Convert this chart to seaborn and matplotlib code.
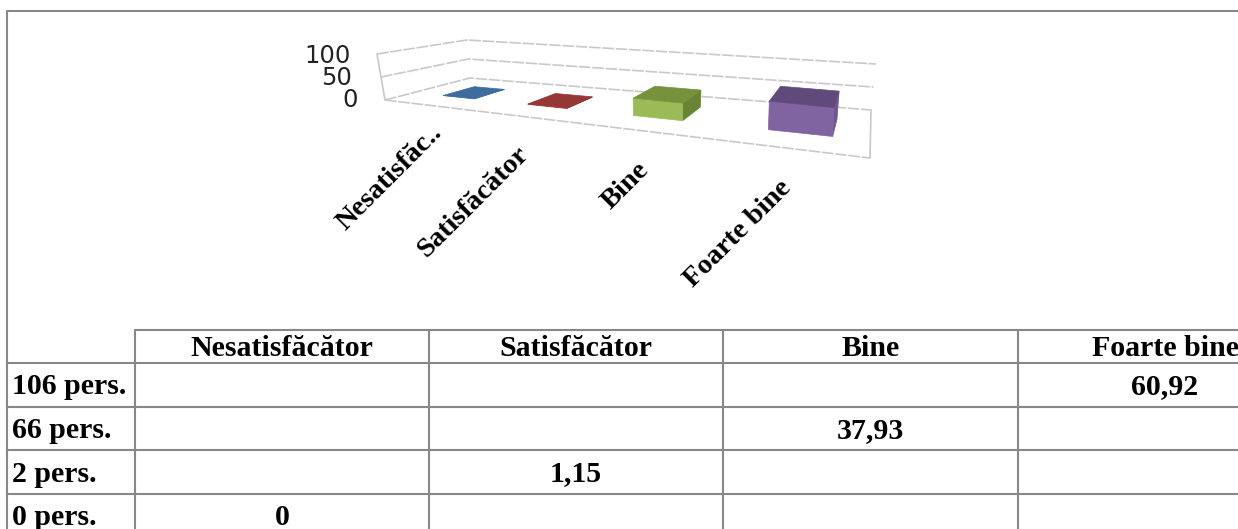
import numpy as np
import pandas as pd
import matplotlib
matplotlib.use("Agg")
import matplotlib.pyplot as plt
from matplotlib.patches import Polygon
import seaborn as sns

# ---- data ----
categories = ["Nesatisfăcător", "Satisfăcător", "Bine", "Foarte bine"]
axis_labels = ["Nesatisfăc..", "Satisfăcător", "Bine", "Foarte bine"]
percent_values = [0, 1.15, 37.93, 60.92]
percent_text = ["0", "1,15", "37,93", "60,92"]
row_labels = ["106 pers.", "66 pers.", "2 pers.", "0 pers."]
row_category = [3, 2, 1, 0]
y_ticks = [0, 50, 100]

W, H = 1238, 529
sns.set_theme(style="white")
plt.rcParams["font.family"] = ["Liberation Serif", "DejaVu Sans"]
fig = plt.figure(figsize=(W / 100, H / 100), dpi=100, facecolor="white")

# hidden seaborn axes: supplies bar geometry from the data
hidden = fig.add_axes([0, 0, 0.01, 0.01])
df = pd.DataFrame({"cat": categories, "val": percent_values})
sns.barplot(data=df, x="cat", y="val", ax=hidden, width=0.395, color="gray", errorbar=None)
bars = [(p.get_x(), p.get_width(), p.get_height()) for p in hidden.patches]
hidden.remove()

ax = fig.add_axes([0, 0, 1, 1])
ax.set_xlim(0, W)
ax.set_ylim(H, 0)
ax.axis("off")

# ---- 3D-looking projection: floor homography + bilinear up vector ----
floor_uv = [(0, 0), (1, 0), (1, 1), (0, 1)]
floor_px = [(385, 100), (870, 158), (871, 110), (470, 78)]
up_px = [(-8, -46), (2, -48), (5, -46), (-3, -38)]
A = []
b = []
for (u, d), (x, y) in zip(floor_uv, floor_px):
    A.append([u, d, 1, 0, 0, 0, -u * x, -d * x]); b.append(x)
    A.append([0, 0, 0, u, d, 1, -u * y, -d * y]); b.append(y)
h = np.linalg.solve(np.array(A, float), np.array(b, float))


def project(cat_x, depth, value):
    u = (cat_x + 0.5) / 4
    w = h[6] * u + h[7] * depth + 1
    x = (h[0] * u + h[1] * depth + h[2]) / w
    y = (h[3] * u + h[4] * depth + h[5]) / w
    mix = [(1 - u) * (1 - depth), u * (1 - depth), u * depth, (1 - u) * depth]
    vx = sum(c * v[0] for c, v in zip(mix, up_px))
    vy = sum(c * v[1] for c, v in zip(mix, up_px))
    return x + vx * value / 100, y + vy * value / 100


# walls and gridlines
wall = "#c9c9c9"
for t in y_ticks:
    pts = [project(-0.5, 0, t), project(-0.5, 1, t), project(3.5, 1, t)]
    ax.plot(*zip(*pts), color=wall, lw=1.2, ls=(0, (7, 1)), zorder=1)
ax.plot(*zip(project(-0.5, 0, 0), project(3.5, 0, 0)), color=wall, lw=1.2, ls=(0, (7, 1)), zorder=1)
ax.plot(*zip(project(-0.5, 0, 0), project(-0.5, 0, 100)), color=wall, lw=1.2, zorder=1)
ax.plot(*zip(project(3.5, 0, 0), project(3.5, 1, 0)), color=wall, lw=1.2, zorder=1)

# bars
faces = [
    ("#4F81BD", "#3F6C9F", "#3A6491"),
    ("#C0504D", "#953735", "#8A3230"),
    ("#9BBB59", "#76923C", "#688533"),
    ("#8064A2", "#604A7B", "#6D5590"),
]
d0, d1 = 0.3, 0.68
shift = 0.09
for (x0, bw, val), (front, top, side) in zip(bars, faces):
    x0 = x0 + shift
    x1 = x0 + bw
    for corners, colour in (
        ([(x1, d0, 0), (x1, d1, 0), (x1, d1, val), (x1, d0, val)], side),
        ([(x0, d0, 0), (x1, d0, 0), (x1, d0, val), (x0, d0, val)], front),
        ([(x0, d0, val), (x1, d0, val), (x1, d1, val), (x0, d1, val)], top),
    ):
        ax.add_patch(Polygon([project(*c) for c in corners], closed=True,
                             facecolor=colour, edgecolor=colour, lw=0.5, zorder=3))

# value-axis labels
for t, ypx, xr in zip(y_ticks, [100, 78, 56], [358, 352, 351]):
    ax.text(xr, ypx, str(t), fontsize=17.5, family="DejaVu Sans", ha="right", va="center",
            color="#222222")

# rotated category labels
label_dx = [15, 12, 18, 11]
label_dy = [24, 35, 37, 37]
for i, (lab, dx, dy) in enumerate(zip(axis_labels, label_dx, label_dy)):
    x, y = project(i, 0, 0)
    ax.text(x + dx, y + dy, lab, rotation=45, rotation_mode="anchor", ha="right", va="center",
            fontsize=20.5, fontweight="bold", color="black")

# frame and table
grey = "#888888"
lw = 1.5
col_x = [135, 429, 723, 1018]
row_y = [330, 363, 407, 450, 494]
ax.plot([W, 7, 7], [11, 11, H], color=grey, lw=lw)
ax.plot([135, W], [330, 330], color=grey, lw=lw)
for y in row_y[1:]:
    ax.plot([7, W], [y, y], color=grey, lw=lw)
for x in col_x:
    ax.plot([x, x], [330, H], color=grey, lw=lw)

text_kw = dict(fontsize=21.5, fontweight="bold", color="black", va="center", clip_on=True)
centres = [(col_x[i] + (col_x[i + 1] if i < 3 else 1312)) / 2 for i in range(4)]
for c, cat in zip(centres, categories):
    ax.text(c, 349, cat, ha="center", **text_kw)
for k, (lab, cat_i) in enumerate(zip(row_labels, row_category)):
    y = (row_y[k + 1] + (row_y[k + 2] if k < 3 else 537)) / 2 + 2
    ax.text(12, y, lab, ha="left", **text_kw)
    ax.text(centres[cat_i], y, percent_text[cat_i], ha="center", **text_kw)

fig.savefig("out.png", dpi=100, facecolor="white")
